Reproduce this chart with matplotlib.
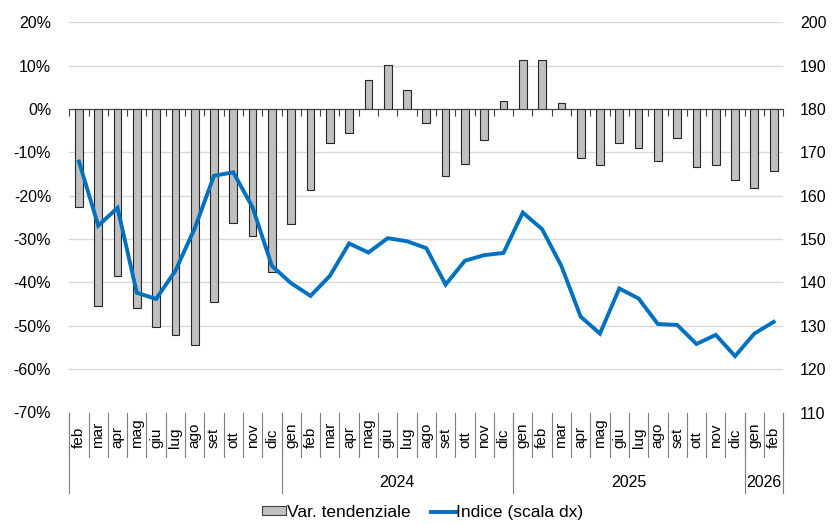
import matplotlib
matplotlib.use("Agg")
import numpy as np
from matplotlib import pyplot as plt
from matplotlib.patches import Patch
from matplotlib.lines import Line2D

plt.rcParams['font.family'] = ['Liberation Sans', 'DejaVu Sans']

# data
months = ["feb", "mar", "apr", "mag", "giu", "lug", "ago", "set", "ott", "nov", "dic",
          "gen", "feb", "mar", "apr", "mag", "giu", "lug", "ago", "set", "ott", "nov", "dic",
          "gen", "feb", "mar", "apr", "mag", "giu", "lug", "ago", "set", "ott", "nov", "dic",
          "gen", "feb"]
var_tend = [-22.5, -45.4, -38.5, -45.8, -50.3, -52.2, -54.5, -44.5, -26.3, -29.4, -37.6,
            -26.5, -18.7, -7.8, -5.5, 6.6, 10.2, 4.3, -3.2, -15.4, -12.6, -7.2, 1.8,
            11.4, 11.2, 1.4, -11.4, -12.9, -7.8, -8.9, -12.0, -6.8, -13.3, -12.8, -16.4,
            -18.2, -14.3]
indice = [167.9, 153.1, 157.2, 137.6, 136.2, 142.7, 152.5, 164.6, 165.4, 157.3, 143.8,
          139.8, 136.9, 141.5, 149.0, 146.9, 150.2, 149.5, 147.9, 139.5, 145.0, 146.3, 146.8,
          156.1, 152.3, 143.8, 132.1, 128.2, 138.6, 136.3, 130.4, 130.2, 125.8, 127.9, 123.0,
          128.2, 130.9]
years = ["", "2024", "2025", "2026"]
year_len = [11, 12, 12, 2]

x = np.arange(len(months))
bar_col = "#c0c0c0"
line_col = "#0070c0"

fig = plt.figure(figsize=(8.32, 5.24), dpi=100)
ax = fig.add_axes([69.3 / 832, (524 - 412.5) / 524, 714 / 832, 390.2 / 524])
ax2 = ax.twinx()

# bars on the left axis
ax.set_ylim(-0.70, 0.20)
ax.set_xlim(-0.5, len(months) - 0.5)
for yv in np.arange(-0.6, 0.21, 0.1):
    ax.axhline(yv, color="#d9d9d9", lw=1, zorder=0)
ax.bar(x, np.array(var_tend) / 100, width=0.4, color=bar_col,
       edgecolor="#262626", linewidth=0.8, zorder=2)

ax.set_yticks(np.arange(-0.7, 0.21, 0.1))
ax.set_yticklabels([f"{v:.0f}%" for v in np.arange(-70, 21, 10)], fontsize=11.5)
ax.tick_params(axis="y", length=0, pad=13)

# category axis sits on zero, ticks between months
for s in ["left", "right", "top"]:
    ax.spines[s].set_visible(False)
ax.spines["bottom"].set_position(("data", 0))
ax.spines["bottom"].set_color("#404040")
ax.spines["bottom"].set_zorder(3)
ax.set_xticks(np.arange(-0.5, len(months), 1.0))
ax.tick_params(axis="x", length=5, direction="out", color="#404040",
               labelbottom=False)

# line on the right axis
ax2.set_ylim(110, 200)
ax2.plot(x, indice, color=line_col, lw=2.8, solid_joinstyle="miter", zorder=4)
ax2.set_yticks(np.arange(110, 201, 10))
ax2.tick_params(axis="y", length=0, pad=12, labelsize=11.5)
for s in ax2.spines.values():
    s.set_visible(False)

# multi-level category labels below the plot
tr = ax.get_xaxis_transform()
for i, m in enumerate(months):
    ax.text(i, -0.092, m, rotation=90, ha="center", va="bottom",
            fontsize=11, transform=tr)
for b in np.arange(-0.5, len(months), 1.0):
    ax.plot([b, b], [0, -0.114], color="#7f7f7f", lw=0.8,
            transform=tr, clip_on=False)
start = 0
bounds = [-0.5]
for yr, n in zip(years, year_len):
    if yr:
        ax.text(start + (n - 1) / 2, -0.18, yr, ha="center", va="center",
                fontsize=11.5, transform=tr)
    start += n
    bounds.append(start - 0.5)
for b in bounds:
    ax.plot([b, b], [0, -0.206], color="#7f7f7f", lw=0.8,
            transform=tr, clip_on=False)

handles = [Patch(facecolor=bar_col, edgecolor="#404040", linewidth=0.8),
           Line2D([], [], color=line_col, lw=2.8)]
fig.legend(handles, ["Var. tendenziale", "Indice (scala dx)"], loc="center",
           bbox_to_anchor=(0.508, 0.022), ncol=2, frameon=False, fontsize=12.5,
           handlelength=1.4, handleheight=0.45, handletextpad=0.05,
           columnspacing=1.2, borderpad=0)

fig.savefig("out.png", dpi=100)
